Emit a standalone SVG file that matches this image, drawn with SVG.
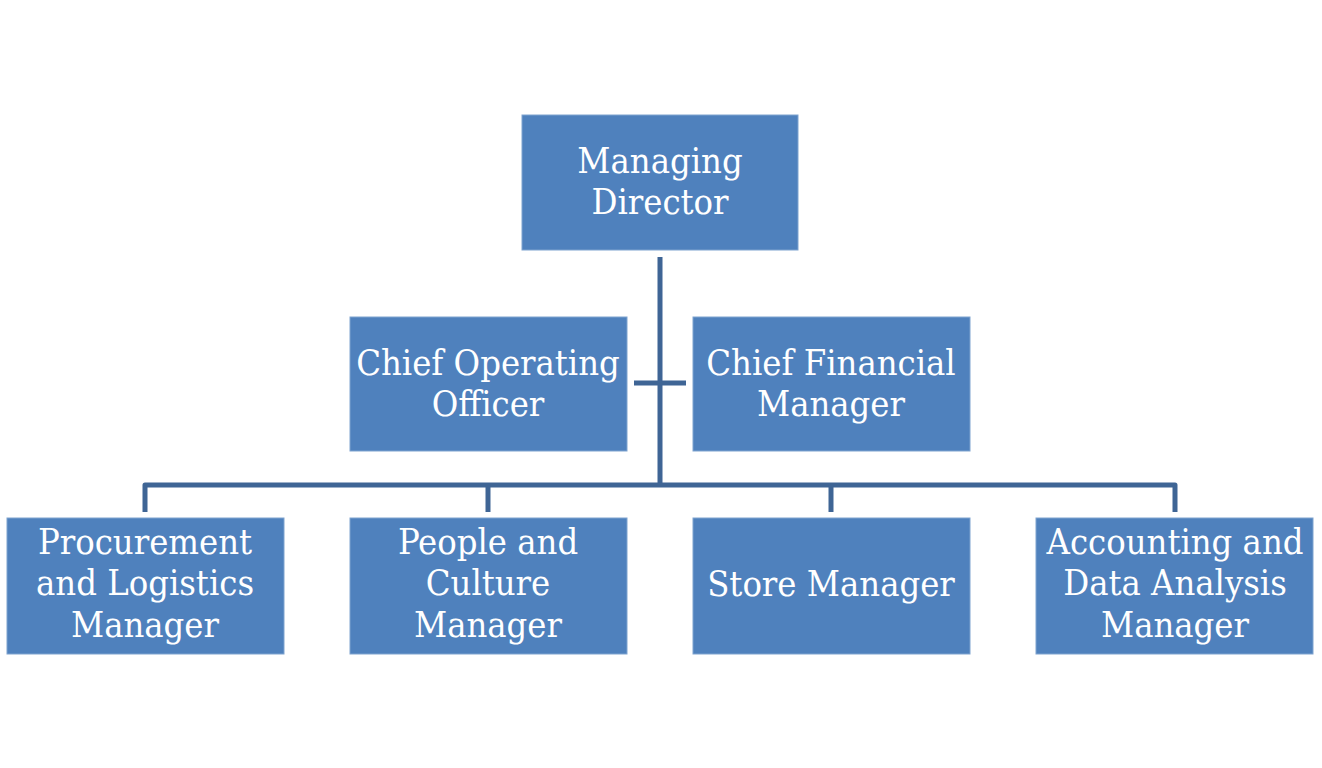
<svg xmlns="http://www.w3.org/2000/svg" width="1322" height="768" viewBox="0 0 1322 768">
<style>
.box{fill:#4F81BD;stroke:#7FA3CF;stroke-width:1}
.t{font-family:"DejaVu Serif Condensed","DejaVu Serif",serif;font-stretch:condensed;font-size:36px;fill:#FFFFFF;text-anchor:middle}
.c{fill:none;stroke:#3F6595;stroke-width:5;stroke-linejoin:round}
</style>
<rect width="1322" height="768" fill="#FFFFFF"/>
<g id="connectors">
<path class="c" d="M660 257 V485"/>
<path class="c" d="M634 383 H686"/>
<path class="c" d="M145 512 V485 H1175 V512"/>
<path class="c" d="M488 485 V512"/>
<path class="c" d="M831 485 V512"/>
</g>
<g id="md"><rect class="box" x="522" y="115" width="276" height="135"/><text class="t" x="660" y="173">Managing</text><text class="t" x="660" y="214">Director</text></g>
<g id="coo"><rect class="box" x="350" y="317" width="277" height="134"/><text class="t" x="488" y="375">Chief Operating</text><text class="t" x="488" y="416">Officer</text></g>
<g id="cfm"><rect class="box" x="693" y="317" width="277" height="134"/><text class="t" x="831" y="375">Chief Financial</text><text class="t" x="831" y="416">Manager</text></g>
<g id="plm"><rect class="box" x="7" y="518" width="277" height="136"/><text class="t" x="145" y="554">Procurement</text><text class="t" x="145" y="595">and Logistics</text><text class="t" x="145" y="637">Manager</text></g>
<g id="pcm"><rect class="box" x="350" y="518" width="277" height="136"/><text class="t" x="488" y="554">People and</text><text class="t" x="488" y="595">Culture</text><text class="t" x="488" y="637">Manager</text></g>
<g id="sm"><rect class="box" x="693" y="518" width="277" height="136"/><text class="t" x="831" y="596">Store Manager</text></g>
<g id="adm"><rect class="box" x="1036" y="518" width="277" height="136"/><text class="t" x="1175" y="554">Accounting and</text><text class="t" x="1175" y="595">Data Analysis</text><text class="t" x="1175" y="637">Manager</text></g>
</svg>
